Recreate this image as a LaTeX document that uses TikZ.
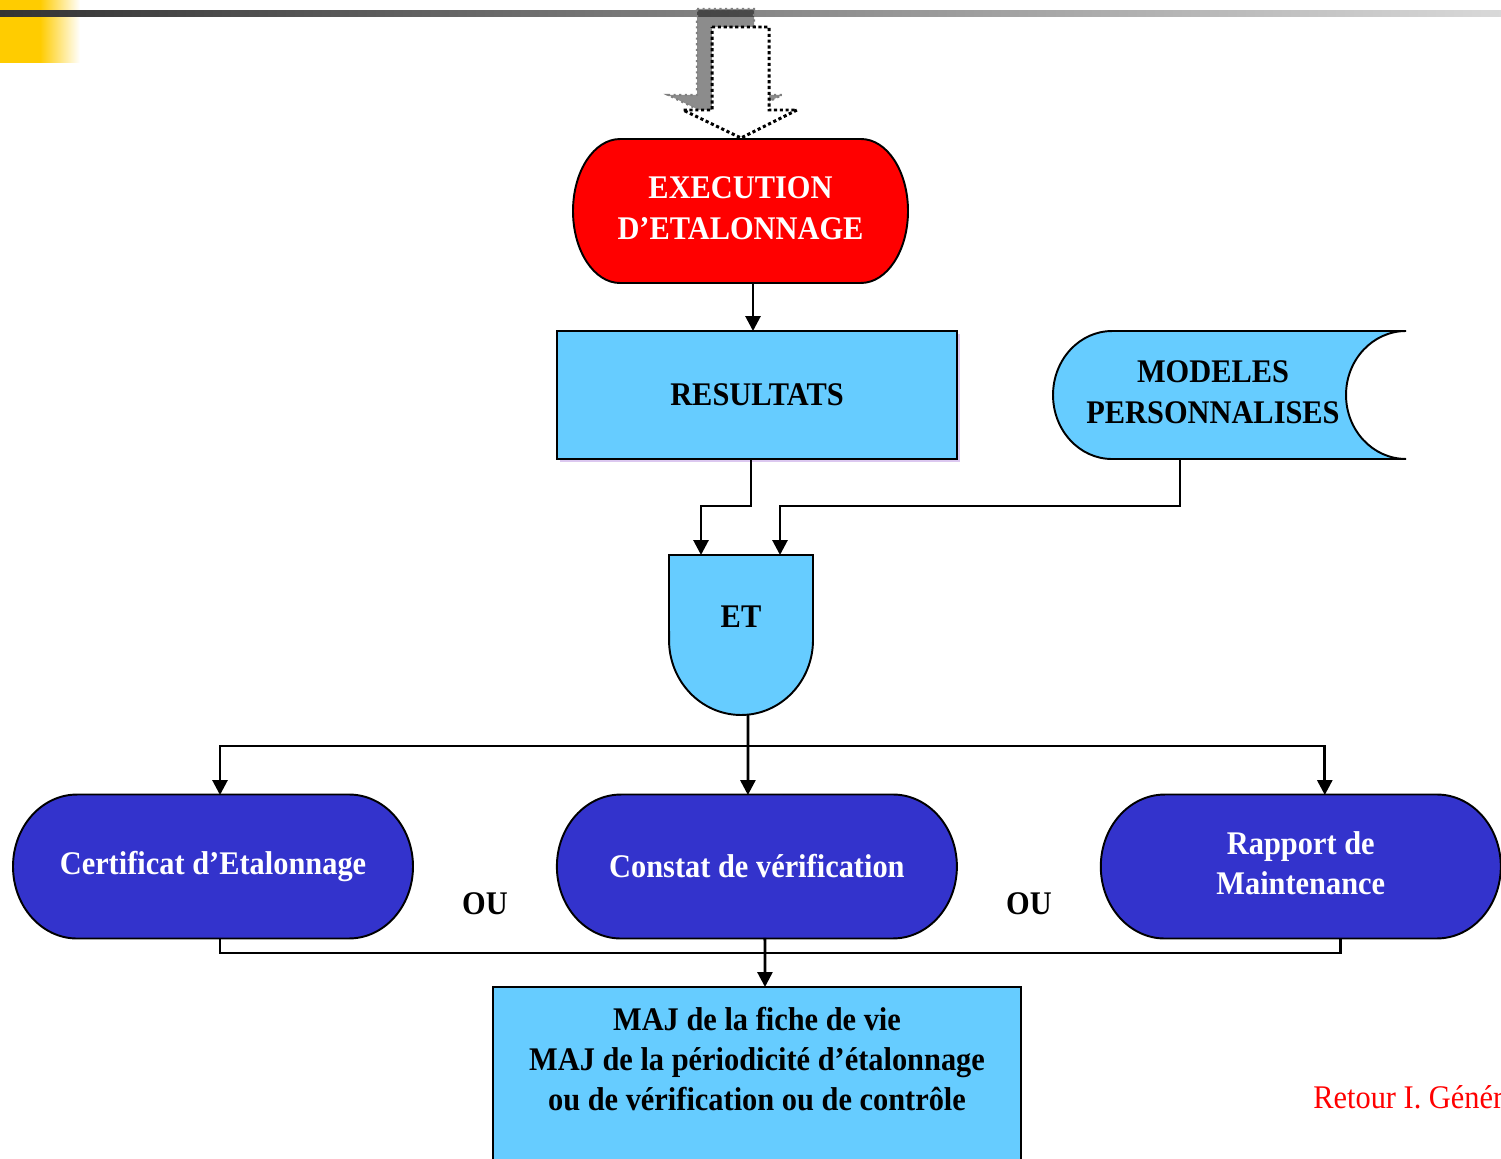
\documentclass[tikz,border=0pt]{standalone}
\usepackage{fontspec}
\setmainfont{Liberation Serif}[FakeStretch=0.92]
\usepackage{tikz}
\usetikzlibrary{arrows.meta}
\usetikzlibrary{positioning}
\usetikzlibrary{backgrounds,shadows}

\definecolor{execred}{HTML}{FF0000}
\definecolor{lightblue}{HTML}{66CCFF}
\definecolor{darkblue}{HTML}{3333CC}
\definecolor{lavender}{HTML}{DCC8F0}
\definecolor{sunyellow}{HTML}{FFCC00}

\newcommand\bigbold{\bfseries\fontsize{18.8}{22.8}\selectfont}

\tikzset{
  holder/.style={outer sep=0pt, inner sep=0pt, font=\bigbold},
  box/.style={draw, line width=1.1pt, fill=lightblue, outer sep=0pt, font=\bigbold},
  outline/.style={line width=1.1pt},
  link/.style={line width=1.6pt},
  arr/.style={link, -{Triangle[length=8.5pt,width=8.5pt]}}
}

% stadium outline round a node: node, colour, half width, end radius (px)
\newcommand\stadiumoutline[4]{%
  \begin{scope}[shift={(#1.center)}]
    \draw[outline, fill=#2] (-#3+#4,-72) -- (#3-#4,-72)
      arc[start angle=90, end angle=-90, x radius=#4*0.02cm, y radius=1.44cm]
      -- (-#3+#4,72)
      arc[start angle=270, end angle=90, x radius=#4*0.02cm, y radius=1.44cm] -- cycle;
  \end{scope}}

\begin{document}
\begin{tikzpicture}[x=0.02cm, y=-0.02cm]
    \useasboundingbox (0,0) rectangle (1501,1159);

    % page decoration
    \fill[sunyellow] (0,0) rectangle (40,63);
    \shade[left color=sunyellow, right color=white] (40,0) rectangle (80,63);
    \shade[left color=black!80, right color=black!15] (0,11) rectangle (1501,17);

    % entry arrow with its shadow
    \filldraw[fill=black, fill opacity=0.45, draw=gray, dotted, line width=1.2pt]
      (697,9) -- (754,9) -- (754,95) -- (782,95) -- (726,123) -- (668,95) -- (697,95) -- cycle;
    \filldraw[fill=white, draw=black, line width=1.7pt, dash pattern=on 1.8pt off 1.5pt]
      (712,27) -- (769,27) -- (769,110) -- (797,110) -- (741,138) -- (683,110) -- (712,110) -- cycle;

    \node (exec) [holder, text=white, minimum width=6.7cm, minimum height=2.88cm] at (740.5,211) {
      \begin{tabular}{c}
        EXECUTION \\
        D’ETALONNAGE
      \end{tabular}
    };
    \node (res) [box, minimum width=8cm, minimum height=2.56cm,
      general shadow={fill=lavender, shadow xshift=1.7pt, shadow yshift=-1.7pt}] at (757,395) {RESULTATS};
    \node (mod) [holder, minimum width=6.4cm, minimum height=2.56cm] at (1213,395) {
      \begin{tabular}{c}
        MODELES \\
        PERSONNALISES
      \end{tabular}
    };
    \node (et) [holder, minimum width=2.86cm, minimum height=3.2cm,
      text height=0.44cm, text depth=0.76cm] at (741,635) {ET};

    \node (cert) [holder, text=white, minimum width=8cm, minimum height=2.86cm] at (213,866.5) {Certificat d’Etalonnage};
    \node (cons) [holder, text=white, minimum width=8cm, minimum height=2.86cm, right = 2.88cm of cert] {Constat de vérification};
    \node (rap) [holder, text=white, minimum width=8cm, minimum height=2.86cm, right = 2.88cm of cons] {
      \begin{tabular}{c}
        Rapport de \\
        Maintenance
      \end{tabular}
    };
    \node (ou1) [holder] at (485,904) {OU};
    \node (ou2) [holder] at (1029,904) {OU};

    \node (maj) [box, anchor=north, minimum width=10.56cm, inner ysep=0.3cm] at (757,987) {
      \begin{tabular}{c}
        MAJ de la fiche de vie \\
        MAJ de la périodicité d’étalonnage \\
        ou de vérification ou de contrôle \\[1.4cm]
      \end{tabular}
    };
    \node (retour) [anchor=west, inner sep=0pt, text=execred, font=\fontsize{18.8}{22.8}\selectfont] at (1313,1097) {Retour I. Génér};

    % shapes behind the texts
    \begin{scope}[on background layer]
      \stadiumoutline{exec}{execred}{167.5}{47}
      \stadiumoutline{cert}{darkblue}{200}{64}
      \stadiumoutline{cons}{darkblue}{200}{64}
      \stadiumoutline{rap}{darkblue}{200}{64}
      \begin{scope}[shift={(mod.center)}]
        \draw[outline, fill=lightblue] (-101,-64) -- (193,-64)
          arc[start angle=90, end angle=270, x radius=1.2cm, y radius=1.28cm]
          -- (-101,64)
          arc[start angle=270, end angle=90, x radius=1.18cm, y radius=1.28cm] -- cycle;
      \end{scope}
      \begin{scope}[shift={(et.center)}]
        \draw[outline, fill=lightblue] (-72,-80) -- (72,-80) -- (72,5)
          arc[start angle=0, end angle=-180, x radius=1.44cm, y radius=1.5cm] -- cycle;
      \end{scope}
    \end{scope}

    \draw [arr] ([xshift=0.25cm]exec.south) -- ([xshift=0.25cm]exec.south |- res.north);
    \draw [arr] ([xshift=-0.12cm]res.south) -- ++(0,47) -| ([xshift=-0.8cm]et.north);
    \draw [arr] ([xshift=-0.66cm]mod.south) -- ++(0,47) -| ([xshift=0.78cm]et.north);

    \draw [arr] ([xshift=0.14cm]et.south) -- ([xshift=-0.18cm]cons.north);
    \draw [arr] ([xshift=0.14cm]et.south) -- ++(0,31) -| ([xshift=0.14cm]cert.north);
    \draw [arr] ([xshift=0.14cm]et.south) -- ++(0,31) -| ([xshift=0.48cm]rap.north);

    \draw [link] ([xshift=0.14cm]cert.south) -- ++(0,15) -| ([xshift=0.8cm]rap.south);
    \draw [arr] ([xshift=0.16cm]cons.south) -- ([xshift=0.16cm]maj.north);
\end{tikzpicture}
\end{document}
